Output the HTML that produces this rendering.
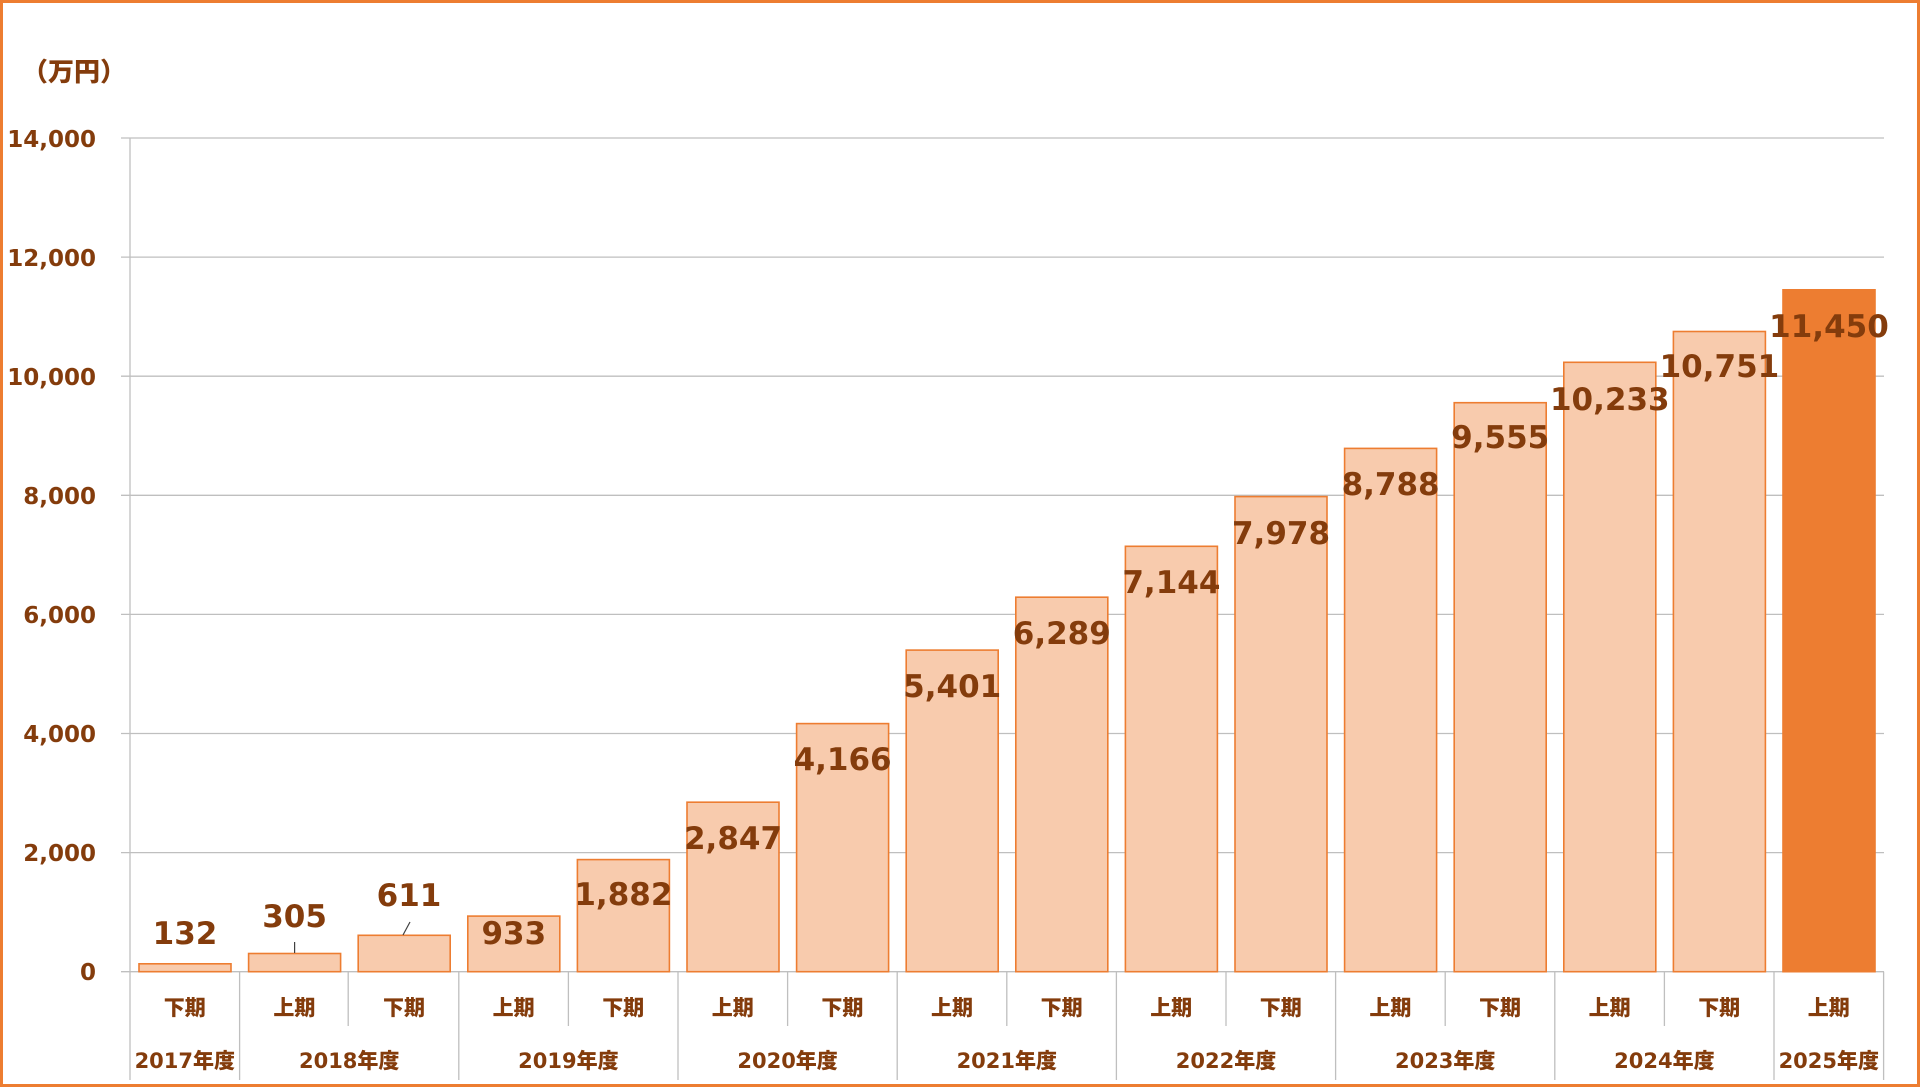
<!DOCTYPE html>
<html><head><meta charset="utf-8"><style>
html,body{margin:0;padding:0;background:#fff}
svg{display:block}
text{font-family:"DejaVu Sans","Liberation Sans","Noto Sans CJK JP",sans-serif;font-weight:bold;fill:#843C0C}
.cj{font-family:"DejaVu Sans","Noto Sans CJK JP","WenQuanYi Zen Hei",sans-serif;font-weight:900}
</style></head><body>
<svg width="1920" height="1089" viewBox="0 0 1920 1089" xmlns="http://www.w3.org/2000/svg">
<rect x="1.5" y="1.5" width="1917" height="1084" fill="#fff" stroke="#ED7D31" stroke-width="3"/>
<text x="22" y="81" font-size="26" class="cj">（万円）</text>
<g stroke="#BFBFBF" stroke-width="1.3">
<line x1="121" x2="1884" y1="138" y2="138"/>
<line x1="121" x2="1884" y1="257.1" y2="257.1"/>
<line x1="121" x2="1884" y1="376.2" y2="376.2"/>
<line x1="121" x2="1884" y1="495.3" y2="495.3"/>
<line x1="121" x2="1884" y1="614.4" y2="614.4"/>
<line x1="121" x2="1884" y1="733.5" y2="733.5"/>
<line x1="121" x2="1884" y1="852.6" y2="852.6"/>
<line x1="121" x2="1884" y1="971.7" y2="971.7"/>
<line x1="130" x2="130" y1="138" y2="1080"/>
<line x1="239.6" x2="239.6" y1="971.7" y2="1080"/>
<line x1="348.2" x2="348.2" y1="971.7" y2="1026"/>
<line x1="458.8" x2="458.8" y1="971.7" y2="1080"/>
<line x1="568.4" x2="568.4" y1="971.7" y2="1026"/>
<line x1="678" x2="678" y1="971.7" y2="1080"/>
<line x1="787.6" x2="787.6" y1="971.7" y2="1026"/>
<line x1="897.2" x2="897.2" y1="971.7" y2="1080"/>
<line x1="1006.8" x2="1006.8" y1="971.7" y2="1026"/>
<line x1="1116.4" x2="1116.4" y1="971.7" y2="1080"/>
<line x1="1226" x2="1226" y1="971.7" y2="1026"/>
<line x1="1335.6" x2="1335.6" y1="971.7" y2="1080"/>
<line x1="1445.2" x2="1445.2" y1="971.7" y2="1026"/>
<line x1="1554.8" x2="1554.8" y1="971.7" y2="1080"/>
<line x1="1664.4" x2="1664.4" y1="971.7" y2="1026"/>
<line x1="1774" x2="1774" y1="971.7" y2="1080"/>
<line x1="1883.6" x2="1883.6" y1="971.7" y2="1080"/>
</g>
<g font-size="23" text-anchor="end">
<text x="96" y="147">14,000</text>
<text x="96" y="266">12,000</text>
<text x="96" y="385">10,000</text>
<text x="96" y="504">8,000</text>
<text x="96" y="623">6,000</text>
<text x="96" y="742">4,000</text>
<text x="96" y="861">2,000</text>
<text x="96" y="980">0</text>
</g>
<g fill="#F8CBAD" stroke="#ED7D31" stroke-width="1.6">
<rect x="139" y="963.8" width="92" height="7.9"/>
<rect x="248.6" y="953.5" width="92" height="18.2"/>
<rect x="358.2" y="935.3" width="92" height="36.4"/>
<rect x="467.8" y="916.1" width="92" height="55.6"/>
<rect x="577.4" y="859.6" width="92" height="112.1"/>
<rect x="687" y="802.2" width="92" height="169.5"/>
<rect x="796.6" y="723.6" width="92" height="248.1"/>
<rect x="906.2" y="650.1" width="92" height="321.6"/>
<rect x="1015.8" y="597.2" width="92" height="374.5"/>
<rect x="1125.4" y="546.3" width="92" height="425.4"/>
<rect x="1235" y="496.6" width="92" height="475.1"/>
<rect x="1344.6" y="448.4" width="92" height="523.3"/>
<rect x="1454.2" y="402.7" width="92" height="569"/>
<rect x="1563.8" y="362.3" width="92" height="609.4"/>
<rect x="1673.4" y="331.5" width="92" height="640.2"/>
<rect x="1783" y="289.8" width="92" height="681.9" fill="#ED7D31"/>
</g>
<g stroke="#404040" stroke-width="1.2">
<line x1="294.6" x2="294.6" y1="942" y2="953"/>
<line x1="410" x2="403" y1="922" y2="935"/>
</g>
<g font-size="31" text-anchor="middle">
<text x="185" y="944">132</text>
<text x="294.6" y="927">305</text>
<text x="409" y="906">611</text>
<text x="513.8" y="944">933</text>
<text x="623.4" y="905">1,882</text>
<text x="733" y="849">2,847</text>
<text x="842.6" y="770">4,166</text>
<text x="952.2" y="697">5,401</text>
<text x="1061.8" y="644">6,289</text>
<text x="1171.4" y="593">7,144</text>
<text x="1281" y="544">7,978</text>
<text x="1390.6" y="495">8,788</text>
<text x="1500.2" y="448">9,555</text>
<text x="1609.8" y="410">10,233</text>
<text x="1719.4" y="377">10,751</text>
<text x="1829" y="337">11,450</text>
</g>
<g font-size="21" text-anchor="middle">
<text x="184.8" y="1015" class="cj">下期</text>
<text x="294.4" y="1015" class="cj">上期</text>
<text x="404" y="1015" class="cj">下期</text>
<text x="513.6" y="1015" class="cj">上期</text>
<text x="623.2" y="1015" class="cj">下期</text>
<text x="732.8" y="1015" class="cj">上期</text>
<text x="842.4" y="1015" class="cj">下期</text>
<text x="952" y="1015" class="cj">上期</text>
<text x="1061.6" y="1015" class="cj">下期</text>
<text x="1171.2" y="1015" class="cj">上期</text>
<text x="1280.8" y="1015" class="cj">下期</text>
<text x="1390.4" y="1015" class="cj">上期</text>
<text x="1500" y="1015" class="cj">下期</text>
<text x="1609.6" y="1015" class="cj">上期</text>
<text x="1719.2" y="1015" class="cj">下期</text>
<text x="1828.8" y="1015" class="cj">上期</text>
<text x="184.8" y="1068" class="cj">2017年度</text>
<text x="349.2" y="1068" class="cj">2018年度</text>
<text x="568.4" y="1068" class="cj">2019年度</text>
<text x="787.6" y="1068" class="cj">2020年度</text>
<text x="1006.8" y="1068" class="cj">2021年度</text>
<text x="1226" y="1068" class="cj">2022年度</text>
<text x="1445.2" y="1068" class="cj">2023年度</text>
<text x="1664.4" y="1068" class="cj">2024年度</text>
<text x="1828.8" y="1068" class="cj">2025年度</text>
</g>
</svg>
</body></html>
